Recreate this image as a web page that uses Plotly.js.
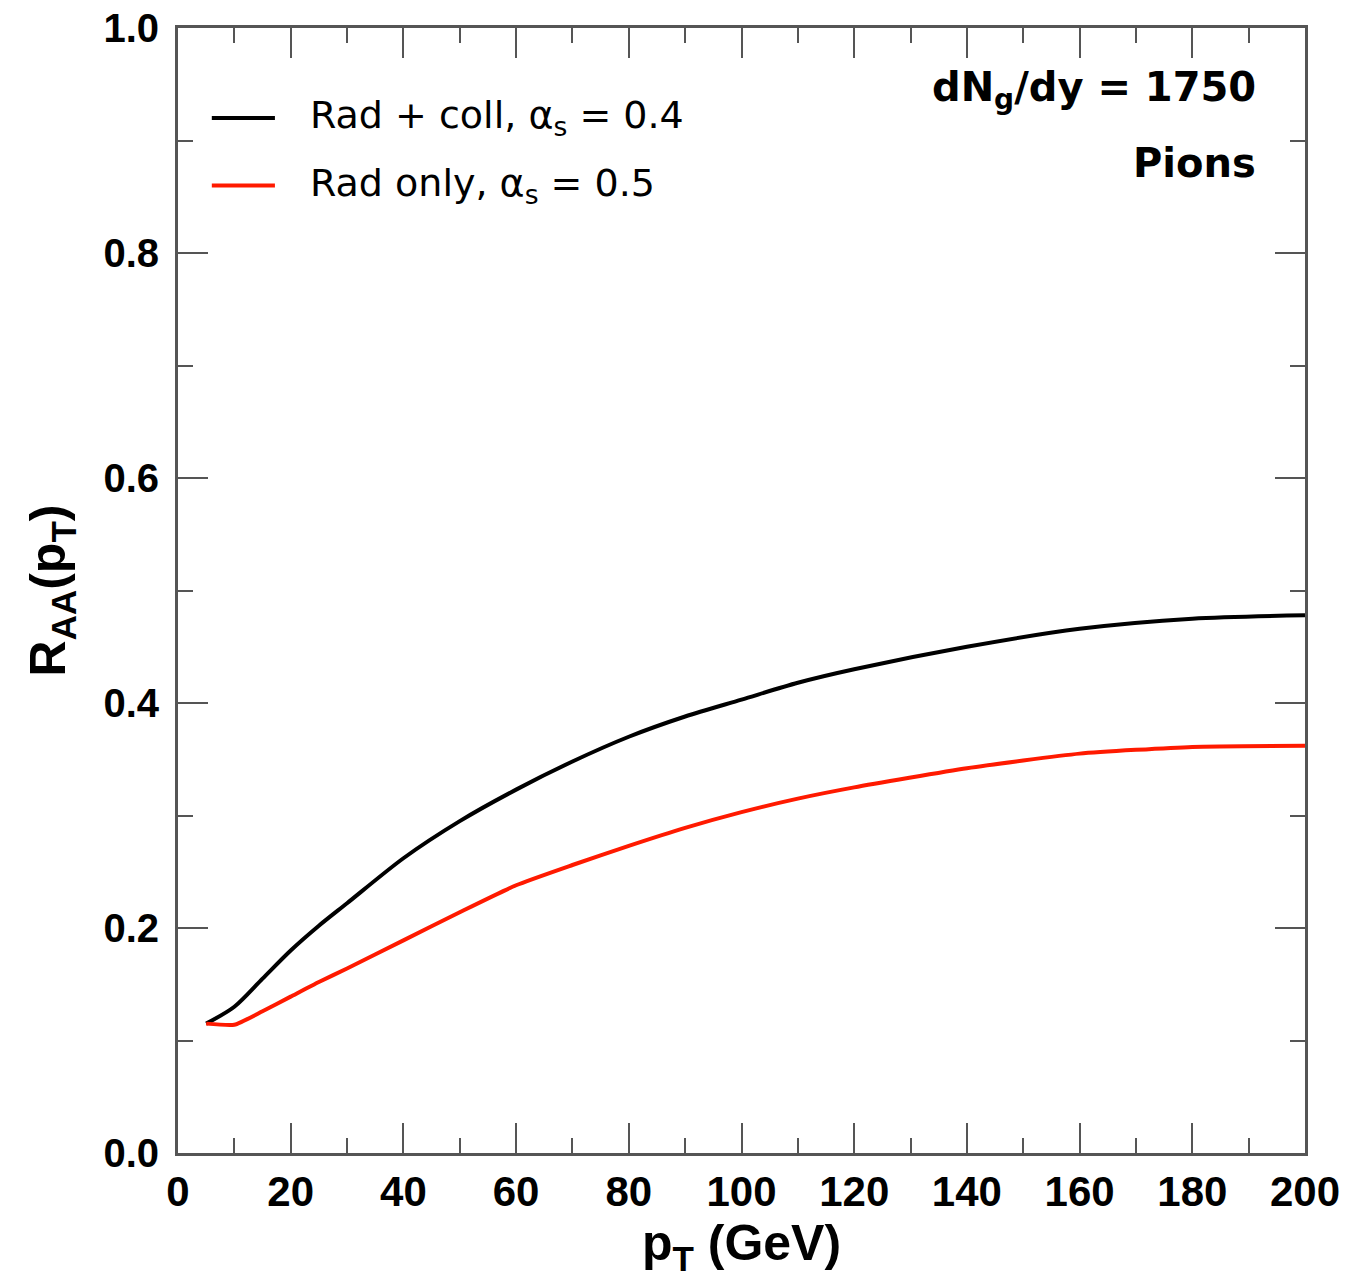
<!DOCTYPE html>
<html>
<head>
<meta charset="utf-8">
<script src="https://cdn.plot.ly/plotly-3.0.1.min.js"></script>
<style>html,body{margin:0;padding:0;background:#fff;}#chart{width:1347px;height:1279px;}</style>
</head>
<body>
<div id="chart"></div>
<script>
// Data
const pT = [5, 10, 15, 20, 25, 30, 40, 50, 60, 70, 80, 90, 100, 110, 120, 140, 160, 180, 200];
const radColl = [0.115, 0.130, 0.155, 0.180, 0.202, 0.222, 0.262, 0.295, 0.323, 0.348, 0.370, 0.388, 0.403, 0.418, 0.430, 0.450, 0.466, 0.475, 0.478];
const radOnly = [0.115, 0.114, 0.126, 0.139, 0.152, 0.164, 0.189, 0.214, 0.238, 0.256, 0.273, 0.289, 0.303, 0.315, 0.325, 0.342, 0.355, 0.361, 0.362];
const seriesNames = ["Rad + coll, α<sub>s</sub> = 0.4", "Rad only, α<sub>s</sub> = 0.5"];
const seriesColors = ["#000000", "#ff1a00"];
const xTicks = [0, 20, 40, 60, 80, 100, 120, 140, 160, 180, 200];
const yTicks = [0.0, 0.2, 0.4, 0.6, 0.8, 1.0];
const yTickLabels = ["0.0", "0.2", "0.4", "0.6", "0.8", "1.0"];

const FONT = "Liberation Sans, Arial, Helvetica, sans-serif";
const WIDE = "DejaVu Sans, Liberation Sans, sans-serif";
const axisColor = "#555";

const traces = [
  {x: pT, y: radColl, type: "scatter", mode: "lines", name: seriesNames[0],
   line: {color: seriesColors[0], width: 4, shape: "spline", smoothing: 0.8}, showlegend: false},
  {x: pT, y: radOnly, type: "scatter", mode: "lines", name: seriesNames[1],
   line: {color: seriesColors[1], width: 4, shape: "spline", smoothing: 0.5}, showlegend: false}
];

// custom legend (lines + labels), placed in paper coordinates
const legendY = [0.920, 0.860];
const shapes = legendY.map((yy, i) => ({
  type: "line", xref: "paper", yref: "paper", x0: 0.030, x1: 0.086, y0: yy, y1: yy,
  line: {color: seriesColors[i], width: 4}
}));
const annotations = legendY.map((yy, i) => ({
  xref: "paper", yref: "paper", x: 0.115, y: yy, xanchor: "left", yanchor: "middle",
  text: seriesNames[i], showarrow: false, font: {family: WIDE, size: 38, color: "#000"}
}));
annotations.push({
  xref: "paper", yref: "paper", x: 0.958, y: 0.945, xanchor: "right", yanchor: "middle",
  text: "<b>dN<sub>g</sub>/dy = 1750</b>", showarrow: false, font: {family: WIDE, size: 40, color: "#000"}
});
annotations.push({
  xref: "paper", yref: "paper", x: 0.958, y: 0.880, xanchor: "right", yanchor: "middle",
  text: "<b>Pions</b>", showarrow: false, font: {family: WIDE, size: 40, color: "#000"}
});

const layout = {
  width: 1347, height: 1279,
  margin: {l: 178, r: 42, t: 28, b: 126, pad: 0},
  paper_bgcolor: "#fff", plot_bgcolor: "#fff",
  showlegend: false,
  font: {family: FONT, color: "#000"},
  xaxis: {
    range: [0, 200], tickvals: xTicks, ticktext: xTicks.map(String),
    ticks: "inside", ticklen: 30, tickwidth: 2, tickcolor: axisColor,
    showline: true, linecolor: axisColor, linewidth: 3, mirror: "allticks",
    showgrid: false, zeroline: false,
    minor: {dtick: 10, ticks: "inside", ticklen: 15, tickwidth: 2, tickcolor: axisColor, showgrid: false},
    tickfont: {family: FONT, size: 42, color: "#000", weight: "bold"},
    ticklabelstandoff: 0,
    title: {text: "<b>p<sub>T</sub> (GeV)</b>", font: {family: FONT, size: 50, color: "#000"}, standoff: 4}
  },
  yaxis: {
    range: [0, 1], tickvals: yTicks, ticktext: yTickLabels,
    ticks: "inside", ticklen: 30, tickwidth: 2, tickcolor: axisColor,
    showline: true, linecolor: axisColor, linewidth: 3, mirror: "allticks",
    showgrid: false, zeroline: false,
    minor: {dtick: 0.1, ticks: "inside", ticklen: 15, tickwidth: 2, tickcolor: axisColor, showgrid: false},
    tickfont: {family: FONT, size: 40, color: "#000", weight: "bold"},
    ticklabelstandoff: 8,
    title: {text: "<b>R<sub>AA</sub>(p<sub>T</sub>)</b>", font: {family: FONT, size: 50, color: "#000"}, standoff: 22}
  },
  shapes: shapes,
  annotations: annotations
};

Plotly.newPlot("chart", traces, layout, {displayModeBar: false, staticPlot: true});
</script>
</body>
</html>
